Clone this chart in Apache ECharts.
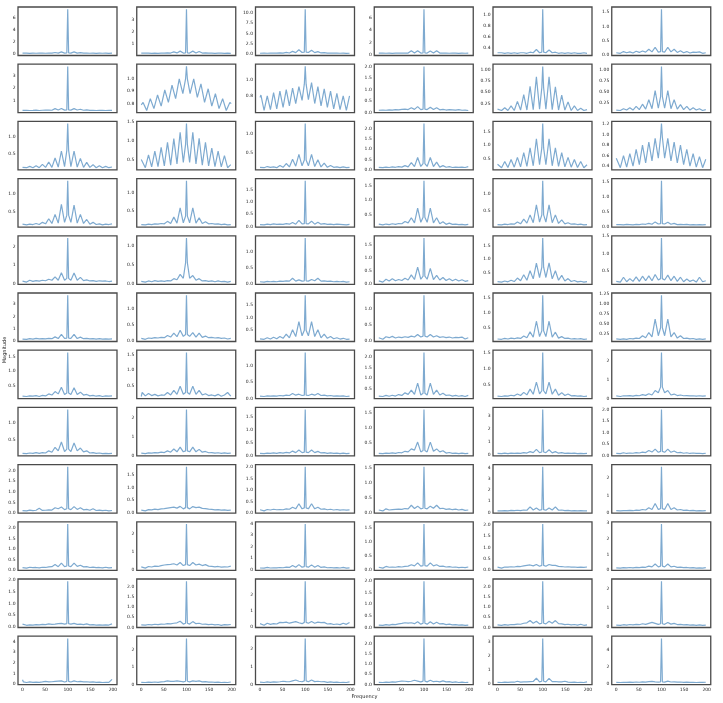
<!DOCTYPE html>
<html>
<head>
<meta charset="utf-8">
<script src="https://cdn.jsdelivr.net/npm/echarts@6/dist/echarts.min.js"></script>
<style>
  html, body { margin: 0; padding: 0; background: #fff; }
  #chart { width: 723px; height: 703px; }
</style>
</head>
<body>
<div id="chart"></div>
<script>
// shared frequency grid (side lobes sit at 100 +/- 14k)
const freqs = [0, 2, 9, 16, 23, 30, 37, 44, 51, 58, 65, 72, 79, 86, 93, 98,
  100, 102, 107, 114, 121, 128, 135, 142, 149, 156, 163, 170, 177, 184, 191, 198];
// panel at row 2 / col 2 has a wider ripple
const rippleFreqs = [0, 4, 12, 20, 28, 36, 44, 52, 60, 68, 76, 84, 92, 98, 100, 102,
  108, 116, 124, 132, 140, 148, 156, 164, 172, 180, 188, 196, 199];
const freqTicks = [0, 50, 100, 150, 200];

// magnitudes, row by row (6 panels per row)
const mags = [
  // row 1
  [0.1,0.08,0.09,0.07,0.1,0.08,0.09,0.1, 0.08,0.12,0.09,0.2,0.1,0.3,0.1,0.12, 7.4,0.12,0.1,0.3,0.1,0.18,0.09,0.12, 0.08,0.1,0.07,0.09,0.08,0.1,0.07,0.09],
  [0.22,0.2,0.21,0.22,0.2,0.21,0.2,0.22, 0.21,0.23,0.22,0.32,0.23,0.38,0.22,0.24, 3.85,0.24,0.22,0.38,0.23,0.35,0.22,0.23, 0.21,0.22,0.2,0.21,0.22,0.2,0.21,0.2],
  [0.15,0.14,0.16,0.15,0.17,0.16,0.18,0.25, 0.2,0.35,0.22,0.6,0.3,1.0,0.35,0.4, 10.9,0.4,0.35,0.9,0.3,0.55,0.22,0.3, 0.2,0.2,0.17,0.16,0.15,0.16,0.14,0.15],
  [0.3,0.28,0.3,0.29,0.31,0.28,0.3,0.32, 0.3,0.33,0.32,0.7,0.34,0.7,0.32,0.33, 7.3,0.33,0.32,0.65,0.33,0.7,0.32,0.31, 0.3,0.29,0.31,0.3,0.28,0.3,0.29,0.3],
  [0.31,0.3,0.31,0.3,0.31,0.3,0.31,0.3, 0.31,0.31,0.3,0.32,0.31,0.37,0.31,0.32, 1.11,0.32,0.31,0.36,0.31,0.32,0.3,0.31, 0.3,0.31,0.3,0.31,0.3,0.3,0.31,0.3],
  [0.08,0.1,0.06,0.12,0.08,0.11,0.07,0.13, 0.09,0.14,0.1,0.2,0.11,0.27,0.1,0.12, 1.6,0.12,0.1,0.27,0.11,0.2,0.09,0.15, 0.08,0.12,0.07,0.1,0.09,0.11,0.06,0.08],
  // row 2
  [0.21,0.2,0.22,0.2,0.21,0.23,0.2,0.22, 0.24,0.23,0.22,0.35,0.24,0.36,0.23,0.25, 3.78,0.25,0.23,0.35,0.24,0.3,0.22,0.25, 0.21,0.22,0.2,0.22,0.21,0.2,0.22,0.21],
  [0.79,0.81,0.745,0.84,0.76,0.87,0.78,0.91,0.81,0.95,0.84,1.0,0.88,1.0,1.1,1.0,0.88,1.0,0.85,0.96,0.81,0.92,0.78,0.88,0.76,0.84,0.745,0.81,0.8],
  [0.78,0.81,0.61,0.8,0.62,0.84,0.63,0.86, 0.65,0.88,0.67,0.9,0.7,0.92,0.74,0.95, 1.18,0.95,0.75,0.97,0.7,0.92,0.67,0.89, 0.65,0.86,0.63,0.83,0.62,0.8,0.61,0.8],
  [0.09,0.08,0.1,0.09,0.11,0.1,0.12,0.11, 0.13,0.14,0.12,0.2,0.13,0.25,0.12,0.14, 2.0,0.14,0.12,0.22,0.12,0.2,0.11,0.13, 0.1,0.12,0.11,0.1,0.12,0.09,0.1,0.08],
  [0.13,0.14,0.1,0.16,0.1,0.2,0.1,0.3, 0.11,0.45,0.11,0.63,0.12,0.84,0.13,0.6, 1.07,0.6,0.13,0.84,0.12,0.62,0.11,0.44, 0.11,0.29,0.1,0.2,0.1,0.15,0.1,0.12],
  [0.1,0.12,0.09,0.13,0.1,0.15,0.1,0.18, 0.11,0.23,0.12,0.33,0.13,0.53,0.14,0.4, 1.07,0.4,0.14,0.53,0.13,0.33,0.12,0.22, 0.11,0.18,0.1,0.15,0.1,0.13,0.09,0.11],
  // row 3
  [0.09,0.1,0.08,0.12,0.08,0.14,0.08,0.18, 0.09,0.25,0.09,0.37,0.1,0.58,0.11,0.6, 1.4,0.6,0.11,0.58,0.1,0.36,0.09,0.24, 0.09,0.17,0.08,0.14,0.08,0.12,0.08,0.1],
  [0.5,0.55,0.28,0.62,0.3,0.72,0.31,0.82, 0.33,0.95,0.35,1.05,0.38,1.22,0.42,0.9, 1.45,0.9,0.42,1.22,0.38,1.06,0.35,0.95, 0.33,0.8,0.31,0.72,0.3,0.6,0.28,0.36],
  [0.11,0.12,0.1,0.13,0.11,0.12,0.1,0.16, 0.11,0.21,0.12,0.32,0.14,0.45,0.15,0.3, 1.26,0.3,0.15,0.45,0.13,0.31,0.12,0.22, 0.11,0.16,0.11,0.12,0.1,0.12,0.1,0.11],
  [0.12,0.14,0.1,0.13,0.11,0.14,0.12,0.15, 0.13,0.2,0.14,0.35,0.15,0.6,0.16,0.3, 2.25,0.3,0.16,0.6,0.15,0.37,0.13,0.2, 0.12,0.15,0.11,0.13,0.12,0.13,0.11,0.15],
  [0.3,0.35,0.17,0.4,0.18,0.47,0.19,0.55, 0.2,0.73,0.22,0.9,0.24,1.24,0.28,0.9, 1.8,0.9,0.28,1.24,0.24,0.9,0.22,0.73, 0.2,0.55,0.19,0.47,0.18,0.4,0.17,0.28],
  [0.55,0.57,0.37,0.6,0.38,0.64,0.4,0.72, 0.43,0.8,0.46,0.86,0.5,0.93,0.55,0.95, 1.21,0.95,0.55,0.93,0.5,0.86,0.46,0.8, 0.43,0.72,0.4,0.64,0.38,0.58,0.37,0.53],
  // row 4
  [0.15,0.16,0.13,0.15,0.14,0.17,0.14,0.2, 0.16,0.3,0.17,0.42,0.18,0.7,0.2,0.4, 1.35,0.4,0.2,0.68,0.18,0.42,0.17,0.28, 0.15,0.2,0.14,0.16,0.13,0.15,0.14,0.16],
  [0.11,0.12,0.1,0.12,0.11,0.13,0.12,0.14, 0.13,0.2,0.14,0.32,0.15,0.58,0.16,0.35, 1.35,0.35,0.16,0.58,0.15,0.3,0.14,0.19, 0.13,0.14,0.12,0.13,0.11,0.12,0.1,0.11],
  [0.08,0.1,0.07,0.1,0.08,0.11,0.09,0.1, 0.09,0.12,0.1,0.17,0.1,0.25,0.11,0.12, 1.85,0.12,0.11,0.22,0.1,0.18,0.1,0.12, 0.09,0.1,0.08,0.1,0.09,0.08,0.07,0.09],
  [0.16,0.15,0.13,0.16,0.14,0.17,0.15,0.18, 0.17,0.25,0.2,0.38,0.2,0.72,0.22,0.4, 1.68,0.4,0.22,0.72,0.2,0.38,0.17,0.24, 0.15,0.19,0.15,0.16,0.14,0.15,0.13,0.15],
  [0.13,0.14,0.12,0.14,0.13,0.15,0.14,0.2, 0.15,0.28,0.17,0.4,0.18,0.68,0.2,0.4, 1.35,0.4,0.2,0.68,0.18,0.4,0.16,0.26, 0.15,0.18,0.14,0.15,0.13,0.14,0.12,0.13],
  [0.06,0.05,0.06,0.05,0.07,0.06,0.05,0.07, 0.06,0.08,0.07,0.1,0.07,0.15,0.08,0.09, 1.52,0.09,0.08,0.14,0.07,0.1,0.06,0.07, 0.06,0.07,0.05,0.06,0.05,0.06,0.05,0.06],
  // row 5
  [0.15,0.18,0.1,0.2,0.14,0.18,0.15,0.2, 0.17,0.25,0.2,0.38,0.2,0.6,0.2,0.3, 2.45,0.3,0.2,0.58,0.2,0.35,0.18,0.22, 0.16,0.18,0.14,0.17,0.15,0.16,0.13,0.15],
  [0.07,0.08,0.05,0.08,0.06,0.09,0.07,0.08, 0.07,0.09,0.08,0.14,0.11,0.25,0.15,0.55, 1.2,0.55,0.15,0.22,0.1,0.14,0.08,0.09, 0.07,0.08,0.06,0.08,0.06,0.07,0.05,0.07],
  [0.07,0.08,0.06,0.08,0.07,0.08,0.07,0.09, 0.08,0.1,0.09,0.18,0.09,0.13,0.09,0.1, 1.43,0.1,0.09,0.14,0.1,0.18,0.09,0.1, 0.08,0.09,0.07,0.08,0.07,0.08,0.06,0.07],
  [0.12,0.15,0.07,0.18,0.11,0.2,0.12,0.17, 0.13,0.22,0.15,0.35,0.17,0.65,0.18,0.3, 1.78,0.3,0.18,0.6,0.17,0.33,0.15,0.25, 0.13,0.2,0.12,0.18,0.11,0.16,0.1,0.13],
  [0.17,0.18,0.15,0.19,0.16,0.22,0.17,0.3, 0.2,0.42,0.22,0.57,0.27,0.85,0.32,0.7, 1.78,0.7,0.32,0.86,0.27,0.57,0.22,0.4, 0.19,0.28,0.17,0.21,0.16,0.18,0.15,0.17],
  [0.2,0.22,0.18,0.32,0.19,0.28,0.2,0.33, 0.2,0.35,0.22,0.36,0.22,0.4,0.24,0.28, 1.45,0.28,0.24,0.38,0.22,0.35,0.2,0.32, 0.19,0.27,0.2,0.24,0.18,0.32,0.19,0.22],
  // row 6
  [0.12,0.15,0.1,0.16,0.12,0.18,0.13,0.15, 0.14,0.18,0.15,0.3,0.16,0.5,0.17,0.2, 3.75,0.2,0.17,0.5,0.16,0.28,0.15,0.18, 0.13,0.16,0.12,0.15,0.11,0.14,0.12,0.13],
  [0.08,0.09,0.05,0.09,0.08,0.1,0.09,0.11, 0.1,0.17,0.12,0.24,0.13,0.33,0.14,0.2, 1.42,0.2,0.14,0.26,0.12,0.24,0.11,0.15, 0.1,0.11,0.09,0.1,0.08,0.09,0.06,0.08],
  [0.16,0.18,0.14,0.2,0.15,0.22,0.16,0.25, 0.18,0.35,0.2,0.52,0.25,0.85,0.28,0.5, 1.9,0.5,0.28,0.85,0.25,0.52,0.2,0.35, 0.18,0.25,0.16,0.2,0.15,0.18,0.14,0.15],
  [0.1,0.16,0.05,0.13,0.1,0.14,0.09,0.12, 0.1,0.13,0.11,0.15,0.12,0.2,0.12,0.15, 1.42,0.15,0.12,0.2,0.12,0.16,0.11,0.13, 0.1,0.12,0.09,0.11,0.1,0.12,0.06,0.1],
  [0.12,0.13,0.11,0.14,0.12,0.15,0.13,0.16, 0.14,0.22,0.16,0.36,0.18,0.72,0.2,0.4, 1.6,0.4,0.2,0.72,0.18,0.35,0.15,0.2, 0.14,0.15,0.12,0.13,0.12,0.13,0.11,0.12],
  [0.12,0.13,0.11,0.12,0.11,0.13,0.12,0.14, 0.13,0.2,0.15,0.28,0.17,0.62,0.2,0.4, 1.22,0.4,0.2,0.62,0.17,0.28,0.14,0.2, 0.13,0.14,0.12,0.13,0.11,0.12,0.11,0.12],
  // row 7
  [0.14,0.16,0.13,0.15,0.14,0.16,0.13,0.17, 0.15,0.22,0.18,0.3,0.22,0.45,0.2,0.25, 1.65,0.25,0.2,0.43,0.2,0.28,0.18,0.2, 0.15,0.17,0.14,0.16,0.13,0.15,0.14,0.15],
  [0.15,0.28,0.17,0.25,0.18,0.22,0.17,0.2, 0.19,0.28,0.2,0.35,0.22,0.48,0.22,0.28, 1.58,0.28,0.22,0.48,0.22,0.35,0.2,0.24, 0.18,0.2,0.17,0.22,0.16,0.2,0.28,0.16],
  [0.07,0.08,0.06,0.08,0.07,0.08,0.07,0.09, 0.08,0.1,0.09,0.15,0.1,0.13,0.09,0.1, 1.4,0.1,0.09,0.13,0.1,0.15,0.09,0.1, 0.08,0.09,0.07,0.08,0.07,0.08,0.06,0.07],
  [0.17,0.22,0.15,0.2,0.16,0.21,0.17,0.24, 0.2,0.32,0.25,0.45,0.25,0.77,0.22,0.3, 2.2,0.3,0.22,0.77,0.25,0.45,0.22,0.3, 0.2,0.22,0.17,0.2,0.16,0.19,0.15,0.2],
  [0.13,0.14,0.12,0.14,0.13,0.16,0.14,0.2, 0.15,0.25,0.17,0.35,0.19,0.57,0.2,0.3, 1.5,0.3,0.2,0.57,0.19,0.35,0.16,0.24, 0.15,0.2,0.14,0.15,0.13,0.14,0.12,0.13],
  [0.13,0.15,0.1,0.14,0.13,0.15,0.12,0.16, 0.14,0.2,0.16,0.25,0.18,0.42,0.3,0.6, 2.45,0.6,0.3,0.42,0.18,0.23,0.15,0.18, 0.14,0.15,0.13,0.14,0.12,0.14,0.12,0.13],
  // row 8
  [0.13,0.14,0.12,0.14,0.13,0.15,0.13,0.15, 0.14,0.2,0.16,0.3,0.2,0.45,0.18,0.25, 1.36,0.25,0.18,0.42,0.2,0.28,0.17,0.2, 0.14,0.15,0.13,0.14,0.12,0.13,0.12,0.13],
  [0.13,0.15,0.1,0.14,0.13,0.16,0.14,0.18, 0.16,0.25,0.18,0.35,0.2,0.45,0.2,0.25, 2.45,0.25,0.2,0.45,0.2,0.33,0.18,0.22, 0.15,0.16,0.13,0.15,0.12,0.14,0.12,0.13],
  [0.09,0.1,0.08,0.1,0.09,0.11,0.09,0.12, 0.1,0.13,0.11,0.18,0.12,0.22,0.12,0.14, 1.78,0.14,0.12,0.22,0.12,0.17,0.11,0.12, 0.09,0.11,0.09,0.1,0.08,0.1,0.08,0.09],
  [0.15,0.17,0.14,0.16,0.15,0.17,0.15,0.18, 0.17,0.22,0.2,0.3,0.26,0.53,0.2,0.25, 1.62,0.25,0.2,0.53,0.22,0.3,0.2,0.24, 0.16,0.18,0.15,0.16,0.14,0.16,0.14,0.15],
  [0.14,0.18,0.12,0.16,0.13,0.17,0.14,0.16, 0.15,0.2,0.17,0.28,0.2,0.45,0.2,0.25, 3.5,0.25,0.2,0.42,0.18,0.28,0.16,0.2, 0.15,0.17,0.14,0.16,0.13,0.15,0.13,0.14],
  [0.09,0.11,0.08,0.12,0.09,0.11,0.1,0.13, 0.11,0.15,0.13,0.22,0.15,0.28,0.14,0.18, 2.0,0.18,0.14,0.28,0.14,0.2,0.12,0.14, 0.1,0.12,0.09,0.11,0.09,0.1,0.08,0.1],
  // row 9
  [0.11,0.15,0.1,0.14,0.11,0.13,0.22,0.12, 0.13,0.15,0.14,0.25,0.2,0.28,0.16,0.2, 2.18,0.2,0.16,0.3,0.17,0.25,0.15,0.17, 0.13,0.2,0.12,0.14,0.11,0.13,0.1,0.12],
  [0.1,0.13,0.07,0.12,0.11,0.14,0.12,0.15, 0.16,0.18,0.2,0.22,0.18,0.25,0.15,0.2, 1.82,0.2,0.15,0.24,0.2,0.22,0.17,0.16, 0.14,0.13,0.11,0.12,0.1,0.11,0.09,0.1],
  [0.14,0.16,0.09,0.15,0.13,0.16,0.14,0.15, 0.14,0.18,0.16,0.25,0.18,0.4,0.18,0.22, 2.0,0.22,0.18,0.4,0.18,0.25,0.16,0.18, 0.14,0.16,0.13,0.15,0.12,0.14,0.12,0.13],
  [0.09,0.1,0.06,0.13,0.09,0.1,0.11,0.12, 0.11,0.14,0.13,0.25,0.14,0.22,0.13,0.15, 1.55,0.15,0.13,0.22,0.15,0.25,0.14,0.15, 0.11,0.13,0.1,0.12,0.09,0.11,0.08,0.09],
  [0.15,0.18,0.14,0.17,0.15,0.18,0.16,0.2, 0.17,0.22,0.2,0.5,0.22,0.4,0.2,0.25, 4.1,0.25,0.2,0.4,0.22,0.5,0.2,0.22, 0.17,0.18,0.15,0.17,0.14,0.16,0.14,0.15],
  [0.13,0.15,0.12,0.14,0.13,0.15,0.13,0.16, 0.15,0.2,0.17,0.3,0.2,0.55,0.2,0.25, 2.65,0.25,0.2,0.55,0.2,0.3,0.17,0.2, 0.15,0.16,0.13,0.15,0.12,0.14,0.12,0.13],
  // row 10
  [0.1,0.12,0.08,0.12,0.1,0.11,0.09,0.12, 0.11,0.14,0.15,0.25,0.15,0.32,0.15,0.18, 2.2,0.18,0.15,0.32,0.16,0.22,0.14,0.15, 0.11,0.13,0.1,0.11,0.09,0.12,0.09,0.1],
  [0.18,0.22,0.11,0.2,0.17,0.22,0.2,0.25, 0.28,0.3,0.32,0.35,0.28,0.42,0.25,0.3, 2.55,0.3,0.25,0.42,0.28,0.33,0.25,0.3, 0.22,0.2,0.18,0.2,0.16,0.18,0.17,0.22],
  [0.13,0.15,0.12,0.18,0.13,0.15,0.14,0.17, 0.15,0.2,0.18,0.35,0.2,0.42,0.2,0.25, 3.95,0.25,0.2,0.4,0.2,0.35,0.18,0.22, 0.15,0.17,0.14,0.16,0.13,0.18,0.12,0.14],
  [0.09,0.1,0.06,0.12,0.09,0.1,0.09,0.11, 0.1,0.12,0.13,0.18,0.14,0.25,0.13,0.15, 1.65,0.15,0.13,0.25,0.14,0.18,0.12,0.13, 0.1,0.11,0.09,0.1,0.08,0.09,0.08,0.1],
  [0.12,0.14,0.08,0.13,0.12,0.14,0.13,0.16, 0.15,0.18,0.2,0.22,0.18,0.24,0.16,0.2, 2.05,0.2,0.16,0.24,0.2,0.2,0.16,0.15, 0.13,0.14,0.12,0.13,0.11,0.12,0.11,0.13],
  [0.14,0.16,0.12,0.15,0.13,0.16,0.14,0.17, 0.15,0.18,0.17,0.25,0.2,0.38,0.2,0.25, 2.95,0.25,0.2,0.38,0.2,0.24,0.17,0.18, 0.15,0.16,0.13,0.15,0.12,0.14,0.12,0.15],
  // row 11
  [0.12,0.1,0.07,0.09,0.08,0.1,0.09,0.11, 0.1,0.13,0.11,0.12,0.14,0.15,0.12,0.14, 1.95,0.14,0.12,0.15,0.11,0.12,0.1,0.13, 0.09,0.1,0.08,0.09,0.08,0.09,0.08,0.13],
  [0.12,0.15,0.11,0.14,0.12,0.15,0.13,0.16, 0.15,0.18,0.17,0.2,0.22,0.3,0.16,0.2, 2.25,0.2,0.16,0.28,0.18,0.2,0.15,0.16, 0.13,0.15,0.12,0.14,0.1,0.13,0.12,0.14],
  [0.22,0.3,0.12,0.25,0.18,0.22,0.2,0.3, 0.28,0.32,0.25,0.3,0.35,0.28,0.22,0.3, 2.85,0.3,0.25,0.35,0.25,0.32,0.28,0.3, 0.2,0.22,0.17,0.2,0.16,0.25,0.18,0.3],
  [0.1,0.12,0.09,0.12,0.1,0.13,0.12,0.15, 0.17,0.2,0.18,0.2,0.16,0.24,0.14,0.18, 2.0,0.18,0.14,0.24,0.15,0.22,0.15,0.16, 0.12,0.14,0.11,0.12,0.1,0.11,0.09,0.1],
  [0.12,0.14,0.1,0.13,0.11,0.14,0.13,0.16, 0.15,0.2,0.22,0.33,0.2,0.3,0.17,0.2, 2.25,0.2,0.17,0.3,0.2,0.33,0.18,0.17, 0.13,0.15,0.12,0.14,0.11,0.15,0.1,0.12],
  [0.11,0.13,0.1,0.13,0.11,0.14,0.12,0.15, 0.13,0.18,0.15,0.2,0.25,0.2,0.15,0.18, 2.4,0.18,0.15,0.25,0.16,0.2,0.14,0.15, 0.12,0.13,0.11,0.12,0.1,0.12,0.1,0.11],
  // row 12
  [0.4,0.2,0.15,0.2,0.16,0.18,0.17,0.2, 0.25,0.2,0.22,0.25,0.28,0.3,0.2,0.25, 4.3,0.25,0.2,0.3,0.22,0.25,0.2,0.22, 0.18,0.2,0.16,0.18,0.15,0.17,0.16,0.45],
  [0.12,0.15,0.11,0.13,0.12,0.14,0.12,0.15, 0.16,0.2,0.17,0.18,0.2,0.18,0.15,0.18, 2.65,0.18,0.15,0.2,0.17,0.2,0.15,0.16, 0.13,0.14,0.12,0.13,0.11,0.12,0.11,0.14],
  [0.13,0.15,0.11,0.14,0.12,0.14,0.13,0.15, 0.18,0.16,0.15,0.2,0.25,0.18,0.15,0.2, 2.55,0.2,0.15,0.25,0.16,0.18,0.15,0.16, 0.12,0.14,0.12,0.13,0.11,0.12,0.11,0.14],
  [0.1,0.12,0.09,0.11,0.1,0.12,0.11,0.14, 0.16,0.15,0.13,0.15,0.2,0.16,0.12,0.16, 2.25,0.16,0.12,0.2,0.13,0.15,0.12,0.17, 0.12,0.13,0.1,0.12,0.09,0.11,0.09,0.1],
  [0.12,0.14,0.11,0.13,0.12,0.14,0.13,0.2, 0.14,0.16,0.15,0.17,0.18,0.42,0.16,0.2, 3.25,0.2,0.16,0.4,0.17,0.18,0.15,0.16, 0.2,0.14,0.12,0.13,0.11,0.12,0.11,0.16],
  [0.15,0.18,0.14,0.17,0.15,0.18,0.16,0.2, 0.17,0.22,0.18,0.25,0.28,0.22,0.18,0.22, 5.3,0.22,0.18,0.3,0.2,0.22,0.18,0.2, 0.16,0.18,0.15,0.17,0.14,0.16,0.15,0.17]
];

// y tick labels per panel
const magTicks = [
  [0,2,4,6], [1,2,3], [0,2.5,5,7.5,10], [0,2,4,6], [0.4,0.6,0.8,1.0], [0,0.5,1,1.5],
  [1,2,3], [0.8,0.9,1.0], [0.8,1.0], [0,0.5,1,1.5,2], [0.25,0.5,0.75,1], [0.25,0.5,0.75,1],
  [0.5,1], [0.5,1,1.5], [0.5,1], [0,0.5,1,1.5,2], [0.5,1,1.5], [0.4,0.6,0.8,1,1.2],
  [0.5,1], [0.5,1], [0,0.5,1,1.5], [0.5,1,1.5], [0.5,1], [0,0.5,1,1.5],
  [0,1,2], [0,0.5,1], [0,0.5,1], [0,0.5,1,1.5], [0.5,1,1.5], [0.5,1,1.5],
  [0,1,2,3], [0,0.5,1], [0.5,1,1.5], [0,0.5,1], [0.5,1,1.5], [0.25,0.5,0.75,1,1.25],
  [0.5,1,1.5], [0.5,1,1.5], [0,0.5,1], [0.5,1,1.5,2], [0.5,1,1.5], [0,1,2],
  [0.5,1], [0,1,2], [0,0.5,1,1.5], [0.5,1,1.5], [0,1,2,3], [0,0.5,1,1.5,2],
  [0,0.5,1,1.5,2], [0,0.5,1,1.5], [0,0.5,1,1.5,2], [0,0.5,1,1.5], [0,1,2,3,4], [0,1,2],
  [0,0.5,1,1.5,2], [0,1,2], [0,1,2,3,4], [0,0.5,1,1.5], [0,0.5,1,1.5,2], [0,1,2,3],
  [0,0.5,1,1.5,2], [0,0.5,1,1.5,2], [0,1,2], [0,0.5,1,1.5,2], [0,0.5,1,1.5,2], [0,1,2],
  [0,1,2,3,4], [0,1,2], [0,1,2], [0,0.5,1,1.5,2], [0,1,2,3], [0,2,4]
];

const COLS = 6, ROWS = 12;
const LINE = '#7eaad0';
const FONT = 'DejaVu Sans';

const chart = echarts.init(document.getElementById('chart'), null, { renderer: 'canvas' });

const grids = [], xAxes = [], yAxes = [], series = [];

mags.forEach((m, i) => {
  const r = Math.floor(i / COLS), c = i % COLS;
  const xs = m.length === freqs.length ? freqs : rippleFreqs;

  // matplotlib-like autoscale with 5% margins
  const dMin = Math.min(...m), dMax = Math.max(...m);
  const pad = (dMax - dMin) * 0.05;
  const lo = dMin - pad, hi = dMax + pad;

  const ticks = magTicks[i].filter(v => v >= lo && v <= hi);
  const step = magTicks[i][1] - magTicks[i][0];
  const dec = Number.isInteger(step) ? 0 : (String(Math.round(step * 100) / 100).split('.')[1] || '').length;

  grids.push({
    left: 18 + 118.75 * c, top: 7 + 57.2 * r, width: 99, height: 48.5,
    show: true, borderColor: '#4a4a4a', borderWidth: 1.3, backgroundColor: '#fff',
    outerBoundsMode: 'none'
  });

  xAxes.push({
    type: 'value', gridIndex: i, min: -10, max: 209,
    axisLine: { show: false }, axisTick: { show: false }, splitLine: { show: false },
    axisLabel: {
      show: r === ROWS - 1, customValues: freqTicks, margin: 2.5,
      fontSize: 4.5, fontFamily: FONT, color: '#222'
    }
  });

  yAxes.push({
    type: 'value', gridIndex: i, min: lo, max: hi,
    axisLine: { show: false }, axisTick: { show: false }, splitLine: { show: false },
    axisLabel: {
      customValues: ticks, margin: 2.5, fontSize: 4.5, fontFamily: FONT, color: '#222',
      formatter: v => Number(v).toFixed(dec)
    }
  });

  series.push({
    type: 'line', xAxisIndex: i, yAxisIndex: i,
    data: xs.map((x, k) => [x, m[k]]),
    showSymbol: false, silent: true,
    lineStyle: { color: LINE, width: 1.2 }
  });
});

chart.setOption({
  animation: false,
  backgroundColor: '#fff',
  grid: grids,
  xAxis: xAxes,
  yAxis: yAxes,
  series: series,
  graphic: [
    {
      type: 'text', x: 5, y: 350, rotation: Math.PI / 2,
      style: { text: 'Magnitude', fontSize: 5, fontFamily: FONT, fill: '#222', align: 'center', verticalAlign: 'middle' }
    },
    {
      type: 'text', x: 364.5, y: 697,
      style: { text: 'Frequency', fontSize: 5, fontFamily: FONT, fill: '#222', align: 'center', verticalAlign: 'middle' }
    }
  ]
});
</script>
</body>
</html>
